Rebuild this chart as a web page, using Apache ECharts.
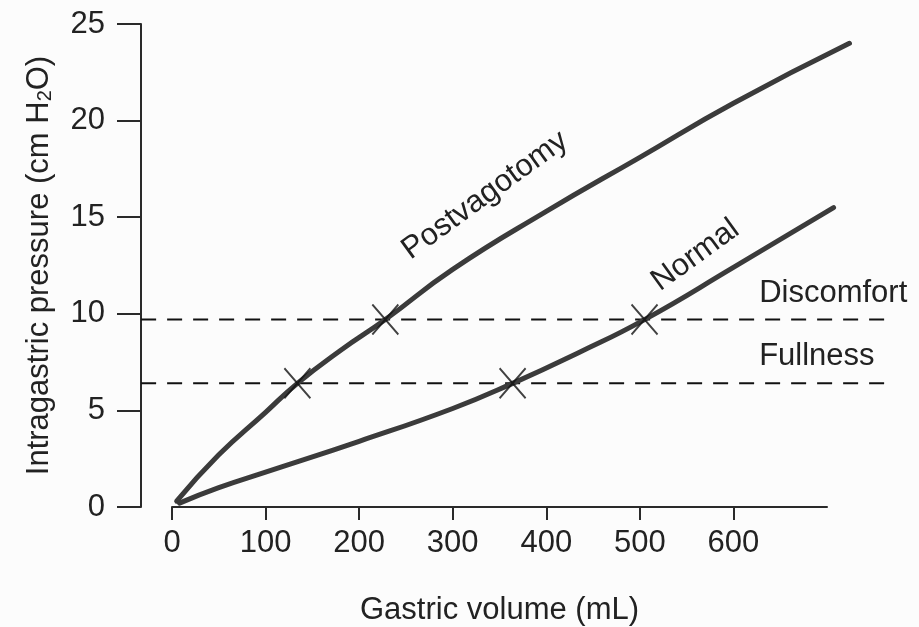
<!DOCTYPE html>
<html>
<head>
<meta charset="utf-8">
<script src="https://cdn.jsdelivr.net/npm/echarts@6/dist/echarts.min.js"></script>
<style>
  html, body { margin: 0; padding: 0; background: #fcfcfc; }
  #chart { width: 919px; height: 627px; }
</style>
</head>
<body>
<div id="chart"></div>
<script>
// gastric volume (mL) vs intragastric pressure (cm H2O)
const xTicks = [0, 100, 200, 300, 400, 500, 600];
const yTicks = [0, 5, 10, 15, 20, 25];

const postvagotomy = [
  [5, 0.3], [50, 2.7], [100, 4.9], [134, 6.4], [180, 8.1], [228, 9.7],
  [300, 12.3], [400, 15.3], [500, 18.1], [600, 20.9], [724, 24.0]
];
const normal = [
  [8, 0.2], [50, 1.0], [100, 1.8], [200, 3.4], [300, 5.1], [364, 6.4],
  [435, 8.0], [505, 9.7], [600, 12.4], [707, 15.5]
];

// sensation thresholds (dashed lines)
const thresholdNames = ['Discomfort', 'Fullness'];
const thresholdValues = [9.7, 6.4];
const thresholdExtent = [-33, 767];
const thresholdLabelX = 628;

// X marks where each curve crosses a threshold
const crossings = [[134, 6.4], [228, 9.7], [364, 6.4], [505, 9.7]];

// curve captions: [x, y, text]
const curveCaptions = [[335, 16.1, 'Postvagotomy'], [560, 13.0, 'Normal']];

const FONT = "'Liberation Sans', Arial, Helvetica, sans-serif";
const INK = '#222';
const CURVE = '#3b3b3b';
const FS = 31;

// axis frame: x 0..700 drawn from px 172 to 827
const AX = { left: 172, right: 92, top: 24, bottom: 120, xMax: 700 };
const pxPerMl = (919 - AX.left - AX.right) / AX.xMax;
// data grid is wider so the curves and dashes can run past the axis ends
const DATA_X = [-40, 780];

const chart = echarts.init(document.getElementById('chart'));

const textLabel = (text, extra) => Object.assign({
  show: true,
  formatter: text,
  fontFamily: FONT,
  fontSize: FS,
  color: INK
}, extra);

const captionPoint = (c) => ({
  coord: [c[0], c[1]],
  symbol: 'circle',
  symbolSize: 1,
  itemStyle: { color: 'transparent' },
  label: textLabel(c[2], { rotate: 36, position: [0, 0], align: 'center', verticalAlign: 'middle' })
});

const thresholdSeries = thresholdNames.map((name, i) => ({
  type: 'line',
  name: name,
  xAxisIndex: 1,
  yAxisIndex: 1,
  data: thresholdExtent.map(x => [x, thresholdValues[i]]),
  showSymbol: false,
  silent: true,
  lineStyle: { color: '#111', width: 2, type: [15, 11] },
  markPoint: {
    silent: true,
    data: [{
      coord: [thresholdLabelX, thresholdValues[i]],
      symbol: 'circle',
      symbolSize: 1,
      itemStyle: { color: 'transparent' },
      label: textLabel(name, { position: [0, -26], align: 'left', verticalAlign: 'middle' })
    }]
  }
}));

const axisLineStyle = { color: '#2a2a2a', width: 2 };

chart.setOption({
  backgroundColor: '#fcfcfc',
  animation: false,
  textStyle: { fontFamily: FONT, color: INK },
  grid: [
    {
      left: AX.left, right: AX.right, top: AX.top, bottom: AX.bottom,
      containLabel: false, outerBoundsMode: 'none'
    },
    {
      left: AX.left + DATA_X[0] * pxPerMl,
      width: (DATA_X[1] - DATA_X[0]) * pxPerMl,
      top: AX.top,
      bottom: AX.bottom,
      containLabel: false,
      outerBoundsMode: 'none'
    }
  ],
  xAxis: [
    {
      type: 'value',
      gridIndex: 0,
      min: 0,
      max: AX.xMax,
      interval: 100,
      name: 'Gastric volume (mL)',
      nameLocation: 'middle',
      nameGap: 88,
      nameTextStyle: { fontFamily: FONT, fontSize: FS, color: INK },
      axisLine: { show: true, onZero: false, lineStyle: axisLineStyle },
      axisTick: { show: true, length: 13, customValues: xTicks, lineStyle: axisLineStyle },
      axisLabel: { margin: 21, fontFamily: FONT, fontSize: FS, color: INK, customValues: xTicks },
      splitLine: { show: false }
    },
    { type: 'value', gridIndex: 1, min: DATA_X[0], max: DATA_X[1], show: false }
  ],
  yAxis: [
    {
      type: 'value',
      gridIndex: 0,
      min: 0,
      max: 25,
      interval: 5,
      offset: 31,
      name: 'Intragastric pressure (cm H{sub|2}O)',
      nameLocation: 'middle',
      nameGap: 86,
      nameTextStyle: {
        fontFamily: FONT,
        fontSize: FS,
        color: INK,
        rich: {
          sub: { fontFamily: FONT, fontSize: 20, color: INK, verticalAlign: 'bottom', lineHeight: 14 }
        }
      },
      axisLine: { show: true, onZero: false, lineStyle: axisLineStyle },
      axisTick: { show: true, length: 24, customValues: yTicks, lineStyle: axisLineStyle },
      axisLabel: { margin: 36, fontFamily: FONT, fontSize: FS, color: INK, customValues: yTicks },
      splitLine: { show: false }
    },
    { type: 'value', gridIndex: 1, min: 0, max: 25, show: false }
  ],
  series: [
    ...thresholdSeries,
    {
      type: 'line',
      name: 'Postvagotomy',
      xAxisIndex: 1,
      yAxisIndex: 1,
      data: postvagotomy,
      smooth: true,
      showSymbol: false,
      lineStyle: { color: CURVE, width: 5, cap: 'round' },
      markPoint: { silent: true, data: [captionPoint(curveCaptions[0])] }
    },
    {
      type: 'line',
      name: 'Normal',
      xAxisIndex: 1,
      yAxisIndex: 1,
      data: normal,
      smooth: true,
      showSymbol: false,
      lineStyle: { color: CURVE, width: 5, cap: 'round' },
      markPoint: { silent: true, data: [captionPoint(curveCaptions[1])] }
    },
    {
      type: 'scatter',
      name: 'crossings',
      xAxisIndex: 1,
      yAxisIndex: 1,
      data: crossings,
      symbol: 'path://M0,0L10,12M10,0L0,12',
      symbolSize: [26, 30],
      itemStyle: { color: 'transparent', borderColor: '#111', borderWidth: 2 },
      z: 5
    }
  ]
});
</script>
</body>
</html>
